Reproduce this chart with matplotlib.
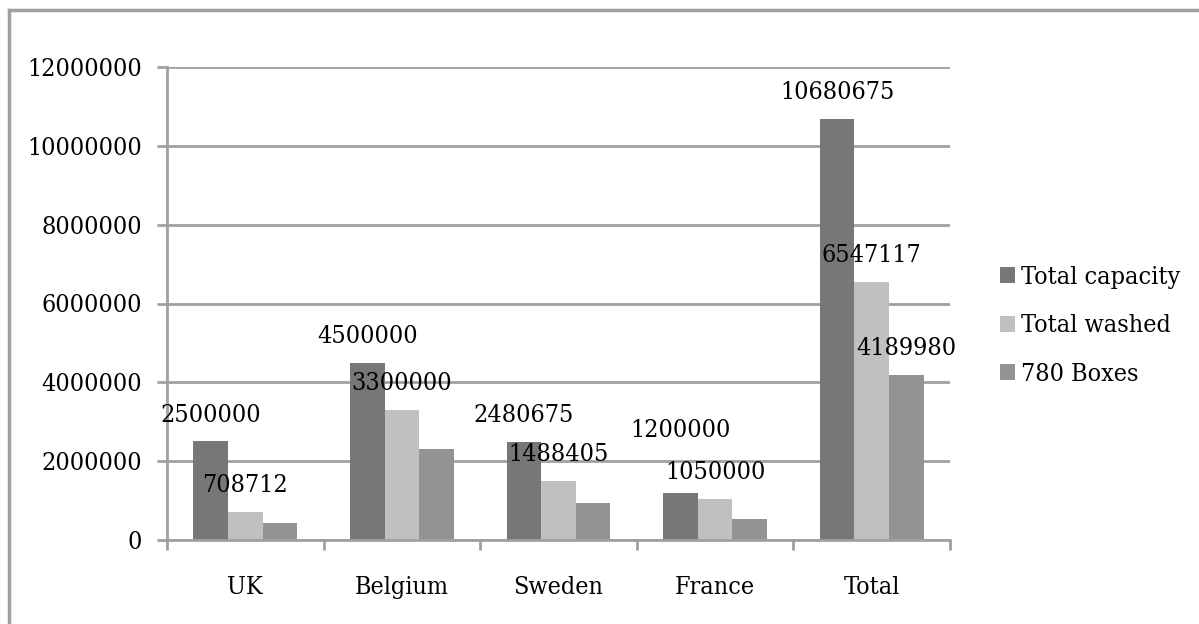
import numpy as np
import matplotlib
matplotlib.use("Agg")
import matplotlib.pyplot as plt
from matplotlib.lines import Line2D

# ── dados ─────────────────────────────────────────────────────────────────────
PAISES = ['UK', 'Belgium', 'Sweden', 'France', 'Total']
SERIES = ['Total capacity', 'Total washed', '780 Boxes']
CAPACIDADE = [2500000, 4500000, 2480675, 1200000, 10680675]
LAVADO = [708712, 3300000, 1488405, 1050000, 6547117]
CAIXAS_780 = [430000, 2300000, 929980, 530000, 4189980]
# quais barras levam rótulo (a série 780 Boxes só no Total)
ROTULAR = [[True] * 5, [True] * 5, [False, False, False, False, True]]
Y_TICKS = [0, 2000000, 4000000, 6000000, 8000000, 10000000, 12000000]

# deslocamento extra (pt) de rótulos empurrados para cima: (série, categoria)
EMPURRAR = {(0, 3): 26}

COR = ['#777777', '#C0C0C0', '#939393']
COR_LINHA = '#A0A0A0'
TAM = 18

plt.rcParams['font.family'] = 'DejaVu Serif'
plt.rcParams['font.stretch'] = 'condensed'

fig = plt.figure(figsize=(11.99, 6.24), dpi=100)
ax = fig.add_axes([167 / 1199, 84 / 624, 783 / 1199, 473 / 624])

x = np.arange(len(PAISES))
larg = 0.221
for i, (nome, vals) in enumerate(zip(SERIES, [CAPACIDADE, LAVADO, CAIXAS_780])):
    pos = x + (i - 1) * larg
    ax.bar(pos, vals, width=larg, color=COR[i], label=nome, zorder=2)
    for j, (xp, v, rot) in enumerate(zip(pos, vals, ROTULAR[i])):
        if rot:
            dy = 19 + EMPURRAR.get((i, j), 0)
            ax.annotate(f"{v}", (xp, v), xytext=(0, dy), textcoords='offset points',
                        ha='center', va='center', fontsize=TAM, color='black', zorder=3)

ax.set_xlim(-0.5, len(PAISES) - 0.5)
ax.set_ylim(0, 12000000)
ax.set_yticks(Y_TICKS)
ax.set_yticklabels([str(t) for t in Y_TICKS])
ax.yaxis.grid(True, color=COR_LINHA, lw=2, zorder=0)
ax.set_axisbelow(True)

# ticks do eixo x nas fronteiras das categorias, rótulos no centro
ax.set_xticks(np.arange(-0.5, len(PAISES), 1.0))
ax.set_xticklabels([])
ax.set_xticks(x, minor=True)
ax.set_xticklabels(PAISES, minor=True)
ax.tick_params(axis='x', which='major', length=7, width=2, color=COR_LINHA)
ax.tick_params(axis='x', which='minor', length=0, pad=26, labelsize=TAM)
ax.tick_params(axis='y', length=7, width=2, color=COR_LINHA, pad=11, labelsize=TAM)

for lado in ['top', 'right']:
    ax.spines[lado].set_visible(False)
for lado in ['left', 'bottom']:
    ax.spines[lado].set_color(COR_LINHA)
    ax.spines[lado].set_linewidth(2)

ax.legend(loc='center left', bbox_to_anchor=(1000 / 1199, 1 - 326 / 624),
          bbox_transform=fig.transFigure, frameon=False, fontsize=TAM,
          handlelength=0.6, handleheight=0.6, handletextpad=0.25,
          labelspacing=1.02, borderaxespad=0, borderpad=0)

# moldura do gráfico (só esquerda e topo aparecem)
fig.add_artist(Line2D([9 / 1199, 9 / 1199], [0, 1 - 10 / 624], transform=fig.transFigure,
                      color=COR_LINHA, lw=2.5))
fig.add_artist(Line2D([9 / 1199, 1.01], [1 - 10 / 624, 1 - 10 / 624], transform=fig.transFigure,
                      color=COR_LINHA, lw=2.5))

fig.savefig('out.png', dpi=100)
plt.close(fig)
